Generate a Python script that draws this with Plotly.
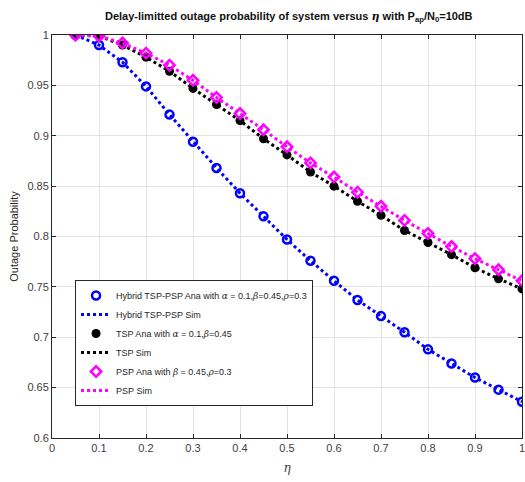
import plotly.graph_objects as go

eta = [0.05, 0.1, 0.15, 0.2, 0.25, 0.3, 0.35, 0.4, 0.45, 0.5,
       0.55, 0.6, 0.65, 0.7, 0.75, 0.8, 0.85, 0.9, 0.95, 1.0]

hybrid = [1.0, 0.990, 0.973, 0.949, 0.921, 0.894, 0.868, 0.843, 0.820, 0.797,
          0.776, 0.756, 0.737, 0.721, 0.705, 0.688, 0.674, 0.660, 0.648, 0.636]
tsp = [1.0, 0.999, 0.990, 0.978, 0.964, 0.947, 0.931, 0.915, 0.897, 0.881,
       0.864, 0.850, 0.835, 0.821, 0.806, 0.794, 0.782, 0.769, 0.758, 0.748]
psp = [1.0, 0.999, 0.992, 0.982, 0.970, 0.955, 0.938, 0.922, 0.906, 0.889,
       0.873, 0.859, 0.844, 0.830, 0.816, 0.803, 0.790, 0.778, 0.767, 0.756]

xticks = [0, 0.1, 0.2, 0.3, 0.4, 0.5, 0.6, 0.7, 0.8, 0.9, 1]
xticklabels = ["0", "0.1", "0.2", "0.3", "0.4", "0.5", "0.6", "0.7", "0.8", "0.9", "1"]
yticks = [0.6, 0.65, 0.7, 0.75, 0.8, 0.85, 0.9, 0.95, 1]
yticklabels = ["0.6", "0.65", "0.7", "0.75", "0.8", "0.85", "0.9", "0.95", "1"]

BLUE = "#0000ff"
MAG = "#ff00ff"
BLK = "#000000"
GR = "<i style='font-family:DejaVu Serif'>%s</i>"

fig = go.Figure()
fig.add_trace(go.Scatter(x=eta, y=hybrid, mode="markers",
                         name="Hybrid TSP-PSP Ana with " + GR % "α" + " = 0.1," + GR % "β" + "=0.45," + GR % "ρ" + "=0.3",
                         marker=dict(symbol="circle-open", size=8, color=BLUE, line=dict(width=2.5, color=BLUE))))
fig.add_trace(go.Scatter(x=eta, y=hybrid, mode="lines", name="Hybrid TSP-PSP Sim",
                         line=dict(color=BLUE, width=3, dash="dot")))
fig.add_trace(go.Scatter(x=eta, y=tsp, mode="markers",
                         name="TSP Ana with " + GR % "α" + " = 0.1," + GR % "β" + "=0.45",
                         marker=dict(symbol="circle", size=9, color=BLK)))
fig.add_trace(go.Scatter(x=eta, y=tsp, mode="lines", name="TSP Sim",
                         line=dict(color=BLK, width=3, dash="dot")))
fig.add_trace(go.Scatter(x=eta, y=psp, mode="markers",
                         name="PSP Ana with " + GR % "β" + " = 0.45," + GR % "ρ" + "=0.3",
                         marker=dict(symbol="diamond-open", size=8, color=MAG, line=dict(width=2.5, color=MAG))))
fig.add_trace(go.Scatter(x=eta, y=psp, mode="lines", name="PSP Sim",
                         line=dict(color=MAG, width=3, dash="dot")))

axis_common = dict(showline=True, linecolor="#262626", linewidth=1, mirror="allticks",
                   ticks="inside", ticklen=4, tickcolor="#262626",
                   showgrid=True, gridcolor="#e3e3e3", gridwidth=1, zeroline=False,
                   ticklabeloverflow="allow",
                   tickfont=dict(family="Liberation Sans, Arial", size=11, color="#404040"))

fig.update_layout(
    width=525, height=482,
    paper_bgcolor="white", plot_bgcolor="white",
    margin=dict(l=52, r=3, t=35, b=44, autoexpand=False),
    title=dict(text="<b>Delay-limitted outage probability of system versus <i style='font-family:DejaVu Serif'>η</i> with P<sub>ap</sub>/N<sub>0</sub>=10dB</b>",
               x=0.55, xanchor="center", y=0.967, yanchor="middle",
               font=dict(family="Liberation Sans, Arial", size=11, color="#111")),
    xaxis=dict(range=[0, 1], tickvals=xticks, ticktext=xticklabels, automargin=False,
               title=dict(text="<i style='font-family:DejaVu Serif'>η</i>", standoff=10,
                          font=dict(size=12, color="#404040")),
               **axis_common),
    yaxis=dict(range=[0.6, 1], tickvals=yticks, ticktext=yticklabels, automargin=False,
               title=dict(text="Outage Probability", standoff=6,
                          font=dict(family="Liberation Sans, Arial", size=11, color="#262626")),
               **axis_common),
    legend=dict(x=0.049, y=0.392, xanchor="left", yanchor="top",
                bgcolor="white", bordercolor="#262626", borderwidth=1,
                font=dict(family="Liberation Sans, Arial", size=9, color="#262626"),
                tracegroupgap=0, itemwidth=30),
    showlegend=True,
)

fig.write_html("out.html", config={"displayModeBar": False},
               post_script="document.body.style.margin='0';")
